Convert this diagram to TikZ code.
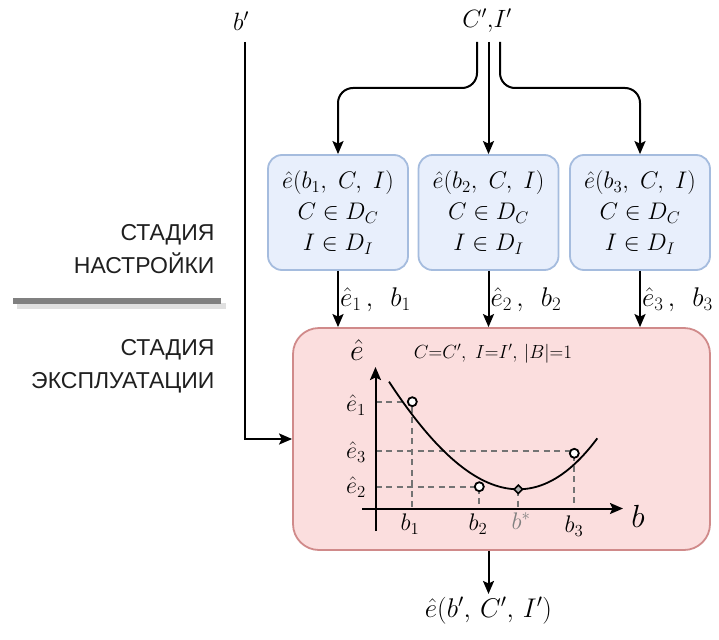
\RequirePackage{fix-cm}
\documentclass[tikz,border=0pt]{standalone}
\usepackage{fontspec}
\newfontfamily\rusans{Liberation Sans}
\usetikzlibrary{arrows.meta,calc,shapes.geometric}
\definecolor{bluefill}{RGB}{232,239,252}
\definecolor{blueline}{RGB}{165,188,222}
\definecolor{pinkfill}{RGB}{251,222,222}
\definecolor{pinkline}{RGB}{208,138,138}
\definecolor{dashgray}{RGB}{115,115,115}
\tikzset{
  arr/.style={line width=2pt,-{Stealth[length=13pt,width=11pt,inset=2.5pt]}},
  evalbox/.style={draw=blueline,fill=bluefill,line width=1.8pt,rounded corners=14pt,
     minimum width=140pt,minimum height=115pt,align=center,font=\fontsize{24}{31}\selectfont},
  mainbox/.style={draw=pinkline,fill=pinkfill,line width=1.8pt,rounded corners=26pt,
     minimum width=417pt,minimum height=222pt},
  stagetxt/.style={font=\rusans\fontsize{23}{33}\selectfont,align=right,anchor=east,text=black!88},
  biglbl/.style={font=\fontsize{25}{28}\selectfont},
  outlbl/.style={font=\fontsize{27}{29}\selectfont},
  flow/.style={font=\fontsize{27}{29}\selectfont,anchor=west,inner sep=1pt},
  dsh/.style={dashgray,line width=1.8pt,dash pattern=on 6pt off 4.5pt},
  pt/.style={circle,draw=black,fill=white,line width=1.8pt,inner sep=0pt,minimum size=9pt},
  tick/.style={font=\fontsize{24}{26}\selectfont,inner sep=1pt}
}
\begin{document}
\begin{tikzpicture}[x=1pt,y=-1pt]
\useasboundingbox (0,0) rectangle (719,639);
% stage labels
\node[stagetxt] (st1) at (218,249.5) {СТАДИЯ\hspace{7pt}\\НАСТРОЙКИ};
\node[stagetxt] (st2) at (218,366) {СТАДИЯ\hspace{7pt}\\ЭКСПЛУАТАЦИИ};
\fill[black!12] (17,303) rectangle (226,308.5);
\fill[black!50] (13,297.5) rectangle (221,304);
% top labels
\node[biglbl] (bp) at (241,21) {$b'$};
\node[biglbl] (ci) at (487,21) {$C'{,}I'$};
\coordinate (ci1) at (477,42);
\coordinate (ci2) at (488.5,42);
\coordinate (ci3) at (500,42);
\coordinate (bp0) at (244.5,42);
% boxes
\node[evalbox] (box1) at (338,212.5) {$\hat e(b_1,\ C,\ I)$\\$C\in D_C$\\$I\in D_I$};
\node[evalbox] (box2) at (488.5,212.5) {$\hat e(b_2,\ C,\ I)$\\$C\in D_C$\\$I\in D_I$};
\node[evalbox] (box3) at (640,212.5) {$\hat e(b_3,\ C,\ I)$\\$C\in D_C$\\$I\in D_I$};
\node[mainbox] (main) at (501.5,439) {};
% connectors from top
\draw[arr,rounded corners=15pt] (ci1) -- (ci1 |- 0,88) -- (box1.north |- 0,88) -- (box1.north);
\draw[arr] (ci2) -- (box2.north);
\draw[arr,rounded corners=15pt] (ci3) -- (ci3 |- 0,88) -- (box3.north |- 0,88) -- (box3.north);
\draw[arr] (bp0) |- (main.west);
% box to main
\draw[arr] (box1.south) -- (box1.south |- main.north) node[flow,midway,yshift=-1pt] {$\hat e_1\,,\ \,b_1$};
\draw[arr] (box2.south) -- (box2.south |- main.north) node[flow,midway,yshift=-1pt] {$\hat e_2\,,\ \,b_2$};
\draw[arr] (box3.south) -- (box3.south |- main.north) node[flow,midway,yshift=-1pt] {$\hat e_3\,,\ \,b_3$};
% output
\node[outlbl] (out) at (488.5,611) {$\hat e(b',\,C',\,I')$};
\draw[arr] (main.south -| out.north) -- (out.north);
% graph inside main
\node[font=\fontsize{30}{32}\selectfont] (ehat) at (357,350) {$\hat e$};
\node[font=\fontsize{19}{21}\selectfont] (cap) at (493,354) {$C{=}C',\ I{=}I',\,|B|{=}1$};
\coordinate (xo) at (362,508.5);
\coordinate (xe) at (623,508.5);
\coordinate (yo) at (375.5,531);
\coordinate (ye) at (375.5,367);
\draw[dsh] (375.5,401.7) -- (412.3,401.7) -- (412.3,508.5);
\draw[dsh] (375.5,451) -- (574.3,451);
\draw[dsh] (574.3,455) -- (574.3,508.5);
\draw[dsh] (375.5,486.7) -- (479.3,486.7) -- (479.3,508.5);
\draw[dsh] (518.3,490) -- (518.3,508.5);
\draw[arr] (yo) -- (ye);
\draw[arr] (xo) -- (xe);
\draw[line width=1.8pt] plot[domain=389:597.3,samples=60,smooth]
  (\x,{489.3-0.7514*((\x-518.3)/10)^2-0.00833*((\x-518.3)/10)^3});
\node[pt] (p1) at (412.3,401.7) {};
\node[pt] (p2) at (479.3,486.7) {};
\node[pt] (p3) at (574.3,453.3) {};
\node[diamond,draw=black,fill=gray!60,line width=1.6pt,inner sep=0pt,minimum size=9pt] (pstar) at (518.3,489.3) {};
\node[tick] (te1) at (356,405) {$\hat e_1$};
\node[tick] (te3) at (356,452) {$\hat e_3$};
\node[tick] (te2) at (356,487) {$\hat e_2$};
\node[tick] (tb1) at (410,524) {$b_1$};
\node[tick] (tb2) at (478,524) {$b_2$};
\node[tick,text=gray] (tbs) at (521,521) {$b^*$};
\node[tick] (tb3) at (574,526) {$b_3$};
\node[font=\fontsize{32}{34}\selectfont] (bl) at (638,516) {$b$};
\end{tikzpicture}
\end{document}
